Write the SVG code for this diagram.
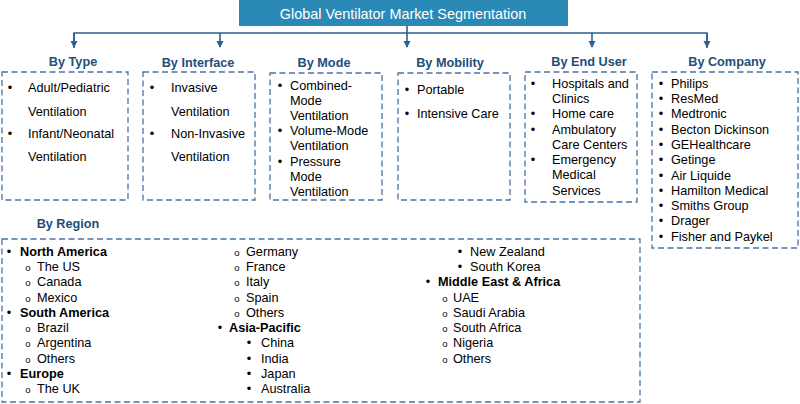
<svg xmlns="http://www.w3.org/2000/svg" width="800" height="404" viewBox="0 0 800 404">
<defs>
<style>
text{font-family:"Liberation Sans",Arial,sans-serif;font-size:12.7px;fill:#000}
.hd{font-weight:bold;fill:#1f4e79;text-anchor:middle}
.b{text-anchor:middle}
.c{font-size:9.5px;text-anchor:middle}
.bold{font-weight:bold}
.box{fill:#fff;stroke:#4a72a6;stroke-width:1.3;stroke-dasharray:6 3.5}
.ln{fill:none;stroke:#2e5f8f;stroke-width:1.6}
</style>
<marker id="ah" markerWidth="8" markerHeight="8" refX="6" refY="3.5" orient="auto" markerUnits="userSpaceOnUse">
<path d="M0,0 L7,3.5 L0,7 Z" fill="#2e5f8f"/>
</marker>
</defs>
<rect width="800" height="404" fill="#fff"/>
<g id="connectors">
<path class="ln" d="M74,48 V33 H707 V48"/>
<path class="ln" d="M74,33 V47" marker-end="url(#ah)"/>
<path class="ln" d="M220,33 V47" marker-end="url(#ah)"/>
<path class="ln" d="M407,26 V47" marker-end="url(#ah)"/>
<path class="ln" d="M592,33 V47" marker-end="url(#ah)"/>
<path class="ln" d="M707,33 V47" marker-end="url(#ah)"/>
</g>
<g id="title">
<rect x="239" y="0" width="329" height="26" fill="#2a8ab5"/>
<text x="403" y="19" text-anchor="middle" style="font-size:14.4px;fill:#fff">Global Ventilator Market Segmentation</text>
</g>
<g id="by-type">
<text class="hd" x="73" y="66">By Type</text>
<rect class="box" x="2" y="72" width="126" height="128"/>
<text class="b" x="10" y="92">•</text><text x="28" y="92">Adult/Pediatric</text>
<text x="28" y="116">Ventilation</text>
<text class="b" x="10" y="138">•</text><text x="28" y="138">Infant/Neonatal</text>
<text x="28" y="161">Ventilation</text>
</g>
<g id="by-interface">
<text class="hd" x="198" y="67">By Interface</text>
<rect class="box" x="143" y="72" width="112" height="128"/>
<text class="b" x="152" y="92">•</text><text x="171" y="92">Invasive</text>
<text x="171" y="116">Ventilation</text>
<text class="b" x="152" y="138">•</text><text x="171" y="138">Non-Invasive</text>
<text x="171" y="161">Ventilation</text>
</g>
<g id="by-mode">
<text class="hd" x="324" y="67">By Mode</text>
<rect class="box" x="270" y="73" width="112" height="127"/>
<text class="b" x="280" y="90">•</text><text x="290" y="90">Combined-</text>
<text x="290" y="105">Mode</text>
<text x="290" y="120">Ventilation</text>
<text class="b" x="280" y="135">•</text><text x="290" y="135">Volume-Mode</text>
<text x="290" y="150">Ventilation</text>
<text class="b" x="280" y="166">•</text><text x="290" y="166">Pressure</text>
<text x="290" y="181">Mode</text>
<text x="290" y="196">Ventilation</text>
</g>
<g id="by-mobility">
<text class="hd" x="450" y="67">By Mobility</text>
<rect class="box" x="398" y="73" width="112" height="127"/>
<text class="b" x="407" y="94">•</text><text x="417" y="94">Portable</text>
<text class="b" x="407" y="118">•</text><text x="417" y="118">Intensive Care</text>
</g>
<g id="by-end-user">
<text class="hd" x="589" y="66">By End User</text>
<rect class="box" x="525" y="72" width="112" height="130"/>
<text class="b" x="533" y="88">•</text><text x="552" y="88">Hospitals and</text>
<text x="552" y="103">Clinics</text>
<text class="b" x="533" y="118">•</text><text x="552" y="118">Home care</text>
<text class="b" x="533" y="134">•</text><text x="552" y="134">Ambulatory</text>
<text x="552" y="149">Care Centers</text>
<text class="b" x="533" y="164">•</text><text x="552" y="164">Emergency</text>
<text x="552" y="179">Medical</text>
<text x="552" y="195">Services</text>
</g>
<g id="by-company">
<text class="hd" x="727" y="66">By Company</text>
<rect class="box" x="652" y="72" width="146" height="176"/>
<g>
<text class="b" x="661" y="88">•</text><text x="671" y="88">Philips</text>
<text class="b" x="661" y="103">•</text><text x="671" y="103">ResMed</text>
<text class="b" x="661" y="118">•</text><text x="671" y="118">Medtronic</text>
<text class="b" x="661" y="134">•</text><text x="671" y="134">Becton Dickinson</text>
<text class="b" x="661" y="149">•</text><text x="671" y="149">GEHealthcare</text>
<text class="b" x="661" y="164">•</text><text x="671" y="164">Getinge</text>
<text class="b" x="661" y="180">•</text><text x="671" y="180">Air Liquide</text>
<text class="b" x="661" y="195">•</text><text x="671" y="195">Hamilton Medical</text>
<text class="b" x="661" y="210">•</text><text x="671" y="210">Smiths Group</text>
<text class="b" x="661" y="225">•</text><text x="671" y="225">Drager</text>
<text class="b" x="661" y="241">•</text><text x="671" y="241">Fisher and Paykel</text>
</g>
</g>
<g id="by-region">
<text class="hd" x="68" y="228">By Region</text>
<rect class="box" x="2" y="239" width="638" height="163"/>
<text class="b" x="9" y="256">•</text><text class="bold" x="20" y="256">North America</text>
<text class="c" x="28" y="271">o</text><text x="37" y="271">The US</text>
<text class="c" x="28" y="286">o</text><text x="37" y="286">Canada</text>
<text class="c" x="28" y="302">o</text><text x="37" y="302">Mexico</text>
<text class="b" x="9" y="317">•</text><text class="bold" x="20" y="317">South America</text>
<text class="c" x="28" y="332">o</text><text x="37" y="332">Brazil</text>
<text class="c" x="28" y="347">o</text><text x="37" y="347">Argentina</text>
<text class="c" x="28" y="363">o</text><text x="37" y="363">Others</text>
<text class="b" x="9" y="378">•</text><text class="bold" x="20" y="378">Europe</text>
<text class="c" x="28" y="393">o</text><text x="37" y="393">The UK</text>

<text class="c" x="237" y="256">o</text><text x="246" y="256">Germany</text>
<text class="c" x="237" y="271">o</text><text x="246" y="271">France</text>
<text class="c" x="237" y="286">o</text><text x="246" y="286">Italy</text>
<text class="c" x="237" y="302">o</text><text x="246" y="302">Spain</text>
<text class="c" x="237" y="317">o</text><text x="246" y="317">Others</text>
<text class="b" x="220" y="332">•</text><text class="bold" x="229" y="332">Asia-Pacific</text>
<text class="b" x="249" y="347">•</text><text x="261" y="347">China</text>
<text class="b" x="249" y="363">•</text><text x="261" y="363">India</text>
<text class="b" x="249" y="378">•</text><text x="261" y="378">Japan</text>
<text class="b" x="249" y="393">•</text><text x="261" y="393">Australia</text>

<text class="b" x="460" y="256">•</text><text x="470" y="256">New Zealand</text>
<text class="b" x="460" y="271">•</text><text x="470" y="271">South Korea</text>
<text class="b" x="428" y="286">•</text><text class="bold" x="438" y="286">Middle East &amp; Africa</text>
<text class="c" x="445" y="302">o</text><text x="453" y="302">UAE</text>
<text class="c" x="445" y="317">o</text><text x="453" y="317">Saudi Arabia</text>
<text class="c" x="445" y="332">o</text><text x="453" y="332">South Africa</text>
<text class="c" x="445" y="347">o</text><text x="453" y="347">Nigeria</text>
<text class="c" x="445" y="363">o</text><text x="453" y="363">Others</text>
</g>
</svg>
